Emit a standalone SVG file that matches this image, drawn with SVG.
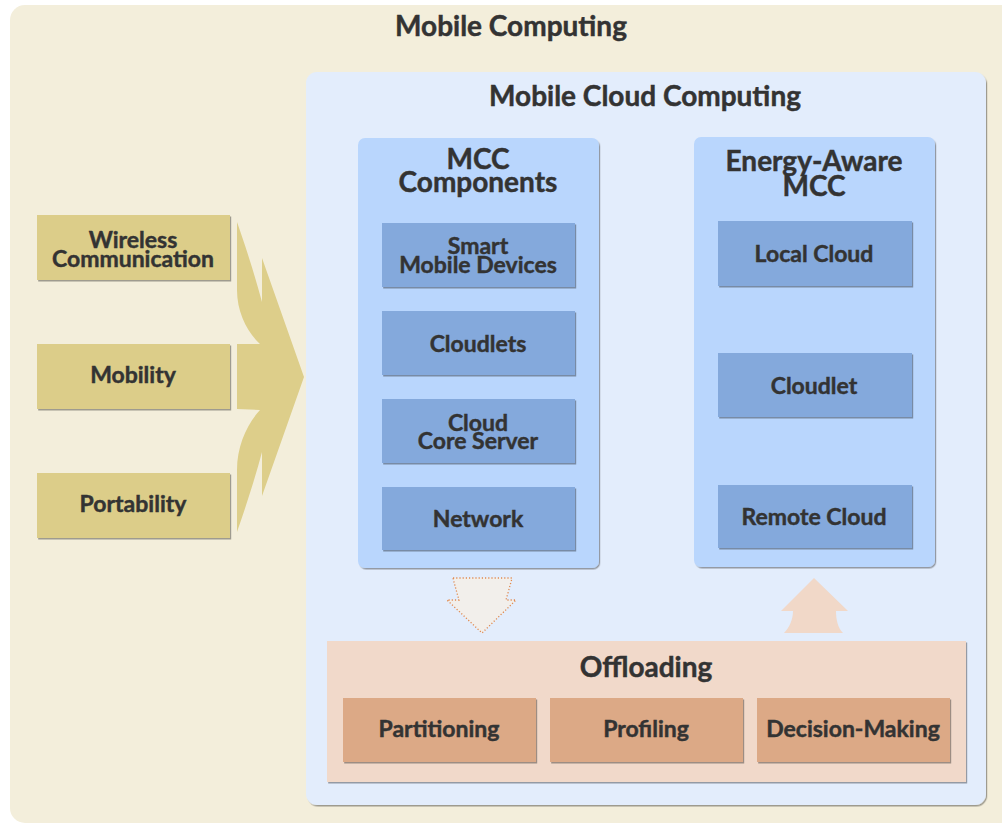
<svg xmlns="http://www.w3.org/2000/svg" width="1002" height="825" viewBox="0 0 1002 825">
  <defs>
    <filter id="shadow" x="-5%" y="-5%" width="110%" height="115%">
      <feDropShadow dx="1.2" dy="1.5" stdDeviation="0.7" flood-color="#000" flood-opacity="0.35"/>
    </filter>
  </defs>
  <style>
    text { font-family: Lato, "Open Sans", "Liberation Sans", sans-serif; font-weight: 700; fill: #333333; stroke: #333333; stroke-width: 0.45; text-anchor: middle; }
    .title { font-size: 28px; }
    .label { font-size: 23px; }
    .outer { fill: #F3EEDB; }
    .mcc { fill: #E3EDFC; filter: url(#shadow); }
    .column { fill: #B9D6FD; filter: url(#shadow); }
    .item { fill: #84A9DC; filter: url(#shadow); }
    .feature { fill: #DCCD89; filter: url(#shadow); }
    .offload { fill: #F1D9CA; filter: url(#shadow); }
    .step { fill: #DCA986; filter: url(#shadow); }
  </style>

  <rect width="1002" height="825" fill="#FFFFFF"/>

  <!-- Mobile Computing container -->
  <g id="mobile-computing">
    <rect class="outer" x="10" y="5" width="1010" height="818" rx="15"/>
    <text class="title" x="511" y="36">Mobile Computing</text>
  </g>

  <!-- Mobile Cloud Computing container -->
  <g id="mobile-cloud-computing">
    <rect class="mcc" x="306" y="72" width="680" height="733" rx="11"/>
    <text class="title" x="645" y="106">Mobile Cloud Computing</text>
  </g>

  <!-- Left column: MCC components -->
  <g id="mcc-components">
    <rect class="column" x="358" y="138" width="241" height="430" rx="7"/>
    <text class="title" x="478" y="169">MCC</text>
    <text class="title" x="478" y="192">Components</text>
  </g>
  <g id="smart-mobile-devices">
    <rect class="item" x="382" y="223" width="193" height="64"/>
    <text class="label" x="478" y="254">Smart</text>
    <text class="label" x="478" y="273">Mobile Devices</text>
  </g>
  <g id="cloudlets">
    <rect class="item" x="382" y="311" width="193" height="64"/>
    <text class="label" x="478" y="352">Cloudlets</text>
  </g>
  <g id="cloud-core-server">
    <rect class="item" x="382" y="399" width="193" height="64"/>
    <text class="label" x="478" y="431">Cloud</text>
    <text class="label" x="478" y="449">Core Server</text>
  </g>
  <g id="network">
    <rect class="item" x="382" y="487" width="193" height="63"/>
    <text class="label" x="478" y="527">Network</text>
  </g>

  <!-- Right column: energy-aware MCC -->
  <g id="energy-aware-mcc">
    <rect class="column" x="694" y="137" width="241" height="430" rx="7"/>
    <text class="title" x="814" y="171">Energy-Aware</text>
    <text class="title" x="814" y="196">MCC</text>
  </g>
  <g id="local-cloud">
    <rect class="item" x="718" y="221" width="194" height="65"/>
    <text class="label" x="814" y="262">Local Cloud</text>
  </g>
  <g id="cloudlet">
    <rect class="item" x="718" y="353" width="194" height="64"/>
    <text class="label" x="814" y="394">Cloudlet</text>
  </g>
  <g id="remote-cloud">
    <rect class="item" x="718" y="485" width="194" height="63"/>
    <text class="label" x="814" y="525">Remote Cloud</text>
  </g>

  <!-- Offloading -->
  <g id="offloading">
    <rect class="offload" x="327" y="641" width="639" height="141"/>
    <text class="title" x="646" y="677">Offloading</text>
  </g>
  <g id="partitioning">
    <rect class="step" x="343" y="698" width="193" height="64"/>
    <text class="label" x="439" y="737">Partitioning</text>
  </g>
  <g id="profiling">
    <rect class="step" x="550" y="698" width="193" height="64"/>
    <text class="label" x="646" y="737">Profiling</text>
  </g>
  <g id="decision-making">
    <rect class="step" x="757" y="698" width="193" height="64"/>
    <text class="label" x="853" y="737">Decision-Making</text>
  </g>

  <!-- Mobile computing features -->
  <g id="wireless-communication">
    <rect class="feature" x="37" y="215" width="193" height="65"/>
    <text class="label" x="133" y="248">Wireless</text>
    <text class="label" x="133" y="267">Communication</text>
  </g>
  <g id="mobility">
    <rect class="feature" x="37" y="344" width="193" height="65"/>
    <text class="label" x="133" y="383">Mobility</text>
  </g>
  <g id="portability">
    <rect class="feature" x="37" y="473" width="193" height="65"/>
    <text class="label" x="133" y="512">Portability</text>
  </g>

  <!-- Connectors -->
  <g id="connectors">
    <!-- three features merging into one arrow -->
    <path fill="#DDCE8A" d="M237,222 C244,242 254,272 262,302 L262,258 L304,377 L262,496 L262,452 C254,482 244,512 237,532 L237,470 C237,446 247,424 260,410 L237,409 L237,344 L260,344 C247,332 237,312 237,290 Z"/>
    <!-- components feed offloading -->
    <path fill="#F2EFEB" stroke="#E08A50" stroke-width="1.3" stroke-dasharray="1.2 2" d="M453,578 L512,578 C510,586 508,593 506,600 L516,600 L482,633 L447,600 L459,600 C457,593 455,586 453,578 Z"/>
    <!-- offloading targets energy-aware MCC -->
    <path fill="#F1D8C8" d="M814,578 L848,611 L836,611 C836,620 838,628 843,633 L784,633 C789,628 793,620 793,611 L781,611 Z"/>
  </g>
</svg>
